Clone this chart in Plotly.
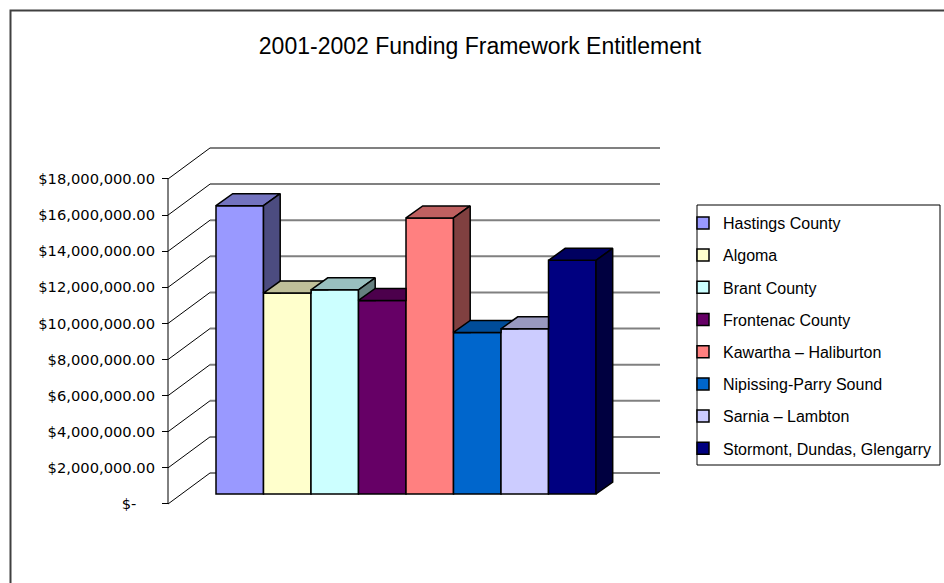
import plotly.graph_objects as go

# ---------------- data ----------------
categories = ["Hastings County", "Algoma", "Brant County", "Frontenac County",
              "Kawartha \u2013 Haliburton", "Nipissing-Parry Sound",
              "Sarnia \u2013 Lambton", "Stormont, Dundas, Glengarry"]
values = [15970000, 11130000, 11310000, 10720000, 15290000, 8950000, 9150000, 12940000]
colors = ["#9999FF", "#FFFFCC", "#CCFFFF", "#660066", "#FF8080", "#0066CC", "#CCCCFF", "#000080"]
tick_values = [0, 2e6, 4e6, 6e6, 8e6, 10e6, 12e6, 14e6, 16e6, 18e6]
tick_labels = ["$-\u00a0\u00a0\u00a0\u00a0", "$2,000,000.00", "$4,000,000.00", "$6,000,000.00",
               "$8,000,000.00", "$10,000,000.00", "$12,000,000.00", "$14,000,000.00",
               "$16,000,000.00", "$18,000,000.00"]
title_text = "2001-2002 Funding Framework Entitlement"

# ---------------- geometry (pixels) ----------------
W, H = 944, 583
PX_X = 47.5            # px per category slot
PX_Y = 325 / 18e6      # px per dollar
X_RANGE = [-2.5, 9.5]
Y_RANGE = [-1e6, 20e6]
X0_PX = 226.25         # pixel of x=0 (front plane)
Y0_PX = 504            # pixel of y=0 (front plane)
BAR_SHIFT = (13.5, -10)   # bar plane offset from axis plane
DEPTH_PX = (42, -31)      # full depth of the wall
BAR_DEPTH_PX = (16.7, -12)

DX = DEPTH_PX[0] / PX_X
DY = -DEPTH_PX[1] / PX_Y
BX = BAR_DEPTH_PX[0] / PX_X
BY = -BAR_DEPTH_PX[1] / PX_Y
K = BY / BX
F = (168 - X0_PX) / PX_X                 # front-left edge of floor
XR = F + 450 / PX_X                      # front-right edge of floor


def xdom(shift=0.0):
    a = X0_PX + shift + (X_RANGE[0]) * PX_X
    b = X0_PX + shift + (X_RANGE[1]) * PX_X
    return [a / W, b / W]


def ydom(shift=0.0):
    bottom = Y0_PX + shift - Y_RANGE[0] * PX_Y
    top = Y0_PX + shift - Y_RANGE[1] * PX_Y
    return [1 - bottom / H, 1 - top / H]


def shade(hexc, f):
    h = hexc.lstrip("#")
    r, g, b = (int(h[i:i + 2], 16) for i in (0, 2, 4))
    return "rgb(%d,%d,%d)" % (round(r * f), round(g * f), round(b * f))


def top_poly(i, v, w):
    A = (i - 0.5, v); B = (i + 0.5, v)
    C = (i + 0.5 + BX, v + BY); D = (i - 0.5 + BX, v + BY)
    E = (i + 0.5, v + BY)
    if w is None or w <= v:
        return [A, B, C, D]
    if w >= v + BY:
        return [A, B, E, D]
    u = (w - v) / K
    return [A, B, (i + 0.5, w), (i + 0.5 + u, w), C, D]


def side_poly(i, v, w):
    x0 = i + 0.5
    if w is None or w <= 0:
        return [(x0, 0), (x0, v), (x0 + BX, v + BY), (x0 + BX, BY)]
    if w >= v + BY:
        return None
    if w <= v:
        if w < BY:
            return [(x0, w), (x0, v), (x0 + BX, v + BY), (x0 + BX, BY), (x0 + w / K, w)]
        return [(x0, w), (x0, v), (x0 + BX, v + BY), (x0 + BX, w)]
    u0 = (w - v) / K
    return [(x0 + u0, w), (x0 + BX, v + BY), (x0 + BX, w)]


FONT = "Liberation Sans, Arial, sans-serif"
TICK_FONT = "DejaVu Sans, Verdana, sans-serif"
fig = go.Figure()

# front faces (bars)
for i, (name, v, c) in enumerate(zip(categories, values, colors)):
    fig.add_trace(go.Bar(
        x=[i], y=[v], width=1, name=name, xaxis="x2", yaxis="y2",
        marker=dict(color=c, line=dict(color="black", width=1.5)),
        legendgroup=name,
    ))

# 3-D top and side faces
n = len(values)
for i, (v, c) in enumerate(zip(values, colors)):
    w = values[i + 1] if i + 1 < n else None
    for poly, f in ((top_poly(i, v, w), 0.75), (side_poly(i, v, w), 0.5)):
        if not poly:
            continue
        xs = [p[0] for p in poly] + [poly[0][0]]
        ys = [p[1] for p in poly] + [poly[0][1]]
        fig.add_trace(go.Scatter(
            x=xs, y=ys, mode="lines", fill="toself", fillcolor=shade(c, f),
            line=dict(color="black", width=1.5), xaxis="x2", yaxis="y2",
            showlegend=False, hoverinfo="skip",
        ))

shapes = []
# back wall gridlines and left wall diagonals
for t in tick_values:
    shapes.append(dict(type="line", xref="x", yref="y", x0=F + DX, x1=XR + DX,
                       y0=t + DY, y1=t + DY, line=dict(color="#808080", width=2), layer="below"))
    shapes.append(dict(type="line", xref="x", yref="y", x0=F, x1=F + DX,
                       y0=t, y1=t + DY, line=dict(color="black", width=1), layer="below"))
# value axis line
shapes.append(dict(type="line", xref="x", yref="y", x0=F, x1=F, y0=0, y1=max(tick_values),
                   line=dict(color="black", width=1), layer="below"))
# outer chart border
shapes.append(dict(type="rect", xref="paper", yref="paper", x0=10.5 / W, x1=1.2,
                   y0=-0.2, y1=1 - 10.5 / H, line=dict(color="#404040", width=2), layer="below"))
# legend border
shapes.append(dict(type="rect", xref="paper", yref="paper", x0=697 / W, x1=940 / W,
                   y0=1 - 465 / H, y1=1 - 205 / H, line=dict(color="black", width=1), layer="below"))

fig.update_layout(
    width=W, height=H,
    margin=dict(l=0, r=0, t=0, b=0),
    paper_bgcolor="white", plot_bgcolor="rgba(0,0,0,0)",
    barmode="overlay",
    font=dict(family=FONT, color="black"),
    title=dict(text=title_text, x=480 / W, y=1 - 46 / H, xanchor="center", yanchor="middle",
               font=dict(family=FONT, size=23, color="black")),
    xaxis=dict(domain=xdom(), range=X_RANGE, visible=False, fixedrange=True),
    yaxis=dict(domain=ydom(), range=Y_RANGE, anchor="free", position=168 / W,
               tickvals=tick_values, ticktext=tick_labels, ticks="outside", ticklen=6,
               tickcolor="black", tickwidth=1, showgrid=False, zeroline=False, showline=False,
               tickfont=dict(family=TICK_FONT, size=14.7, color="black"), ticklabelstandoff=4),
    xaxis2=dict(domain=xdom(BAR_SHIFT[0]), range=X_RANGE, visible=False, anchor="y2"),
    yaxis2=dict(domain=ydom(BAR_SHIFT[1]), range=Y_RANGE, visible=False, anchor="x2"),
    shapes=shapes,
    legend=dict(x=683 / W, y=1 - 206 / H, xanchor="left", yanchor="top",
                bgcolor="rgba(0,0,0,0)", borderwidth=0,
                font=dict(family=FONT, size=16, color="black"),
                tracegroupgap=8.4, itemclick=False),
    showlegend=True,
)

fig.write_html("out.html", config={"displayModeBar": False},
               post_script="document.body.style.margin='0';")
